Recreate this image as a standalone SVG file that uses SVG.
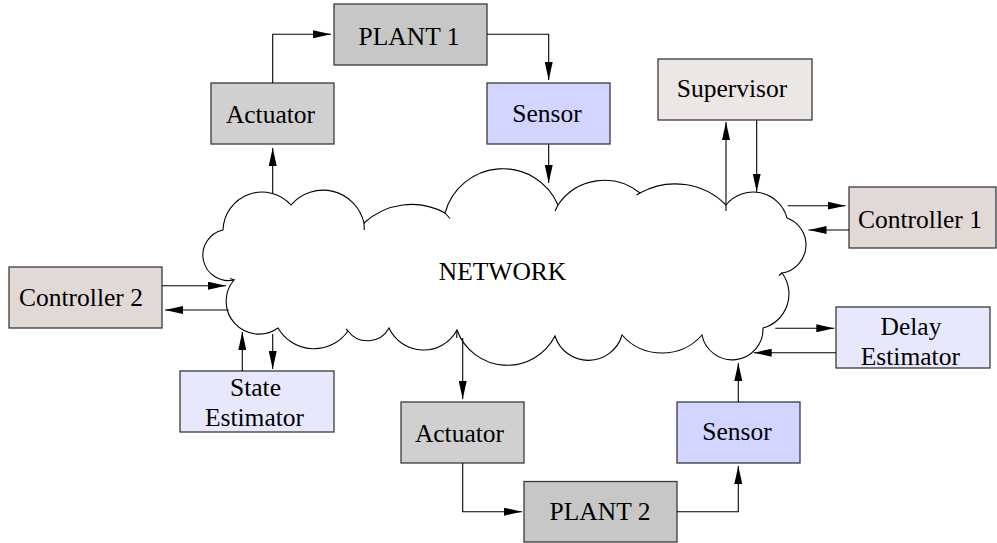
<svg xmlns="http://www.w3.org/2000/svg" width="997" height="543" viewBox="0 0 997 543">
  <style>
    .box { stroke: #3a3a3a; stroke-width: 1.3; }
    .plant { fill: #c7c7c7; }
    .act { fill: #d0d0d0; }
    .sensor { fill: #d1d5ff; }
    .sup { fill: #ece7e4; }
    .ctrl { fill: #e0d9d6; }
    .est { fill: #e8e8fd; }
    .lbl { font-family: "Liberation Serif", "Times New Roman", serif; font-size: 25.5px; fill: #000; text-anchor: middle; }
    .wire { fill: none; stroke: #000; stroke-width: 1.1; marker-end: url(#ah); }
    .cloud { fill: #fff; stroke: #000; stroke-width: 1.1; stroke-linejoin: miter; }
    .tail { fill: none; stroke: #000; stroke-width: 1.1; }
  </style>
  <defs>
    <marker id="ah" viewBox="0 0 18 8" refX="18" refY="4" markerWidth="18" markerHeight="8" markerUnits="userSpaceOnUse" orient="auto">
      <path d="M0,0 L18,4 L0,8 z" fill="#000"/>
    </marker>
  </defs>

  <!-- network cloud -->
  <g id="network">
    <path class="cloud" d="M223,230
      A39,39 0 0 1 291,205
      A42,42 0 0 1 364,223
      A70,70 0 0 1 445,213
      A60,60 0 0 1 558,205
      A56,56 0 0 1 640,193
      A72,72 0 0 1 726,205
      A35,35 0 0 1 787,218
      A28.5,28.5 0 0 1 782,273
      A35.2,35.2 0 0 1 763,328
      A30.8,30.8 0 0 1 702,335
      A53.4,53.4 0 0 1 622,335
      A35,35 0 0 1 555,336
      A53.5,53.5 0 0 1 457,330
      A38,38 0 0 1 389,328
      A24.4,24.4 0 0 1 348,331
      A41.5,41.5 0 0 1 278,328
      A32.8,32.8 0 0 1 234,280
      A25,25 0 1 1 223,230 Z"/>
    <!-- small overlaps where neighbouring arcs cross -->
    <path class="tail" d="M364,223 L364.3,230 M445,213 L450,218.5 M558,205 L555,211 M640,193 L636.5,195 M782,273 L779,275.5 M457,330 L456.7,338 M348,331 L346,329 M230,278.5 L234,280"/>
    <text class="lbl" x="502.5" y="280">NETWORK</text>
  </g>

  <!-- nodes -->
  <g id="plant1">
    <rect class="box plant" x="334" y="4" width="153" height="61"/>
    <text class="lbl" x="409" y="44.5">PLANT 1</text>
  </g>
  <g id="actuator1">
    <rect class="box act" x="211" y="83" width="123" height="61"/>
    <text class="lbl" x="270.5" y="123.3">Actuator</text>
  </g>
  <g id="sensor1">
    <rect class="box sensor" x="487" y="83" width="123" height="61"/>
    <text class="lbl" x="547" y="122.3">Sensor</text>
  </g>
  <g id="supervisor">
    <rect class="box sup" x="658" y="59" width="154" height="61"/>
    <text class="lbl" x="732" y="96.7">Supervisor</text>
  </g>
  <g id="controller1">
    <rect class="box ctrl" x="849" y="187" width="147" height="61"/>
    <text class="lbl" x="920" y="227.7">Controller 1</text>
  </g>
  <g id="controller2">
    <rect class="box ctrl" x="9" y="267" width="153" height="61"/>
    <text class="lbl" x="81" y="306.3">Controller 2</text>
  </g>
  <g id="state-estimator">
    <rect class="box est" x="180" y="371" width="154" height="61"/>
    <text class="lbl" x="255.5" y="395.7">State</text>
    <text class="lbl" x="254.5" y="426.3">Estimator</text>
  </g>
  <g id="delay-estimator">
    <rect class="box est" x="836" y="307" width="154" height="61"/>
    <text class="lbl" x="911" y="334.7">Delay</text>
    <text class="lbl" x="910.3" y="364.7">Estimator</text>
  </g>
  <g id="actuator2">
    <rect class="box act" x="401" y="402" width="123" height="61"/>
    <text class="lbl" x="459.5" y="442">Actuator</text>
  </g>
  <g id="plant2">
    <rect class="box plant" x="524" y="481.5" width="153" height="60.5"/>
    <text class="lbl" x="600" y="520.3">PLANT 2</text>
  </g>
  <g id="sensor2">
    <rect class="box sensor" x="677" y="402" width="123" height="61"/>
    <text class="lbl" x="737" y="440.3">Sensor</text>
  </g>

  <!-- connectors -->
  <g id="connectors">
    <path class="wire" d="M272.7,83 V34.3 H331"/>
    <path class="wire" d="M487,34.3 H548.7 V80"/>
    <path class="wire" d="M548.7,144 V183"/>
    <path class="wire" d="M272.7,194 V148"/>
    <path class="wire" d="M726,211 V122"/>
    <path class="wire" d="M756.7,120 V191.7"/>
    <path class="wire" d="M787.7,205.7 H845.5"/>
    <path class="wire" d="M849,230 H808.5"/>
    <path class="wire" d="M775.3,328.3 H834.3"/>
    <path class="wire" d="M836,352.7 H753.7"/>
    <path class="wire" d="M738.3,402 V363"/>
    <path class="wire" d="M677,511.7 H738.3 V466"/>
    <path class="wire" d="M462.7,463 V511.7 H522"/>
    <path class="wire" d="M462.7,338 V399"/>
    <path class="wire" d="M162,285.7 H226"/>
    <path class="wire" d="M228.7,310 H165"/>
    <path class="wire" d="M242.3,371 V332"/>
    <path class="wire" d="M272.7,334 V369"/>
  </g>
</svg>
